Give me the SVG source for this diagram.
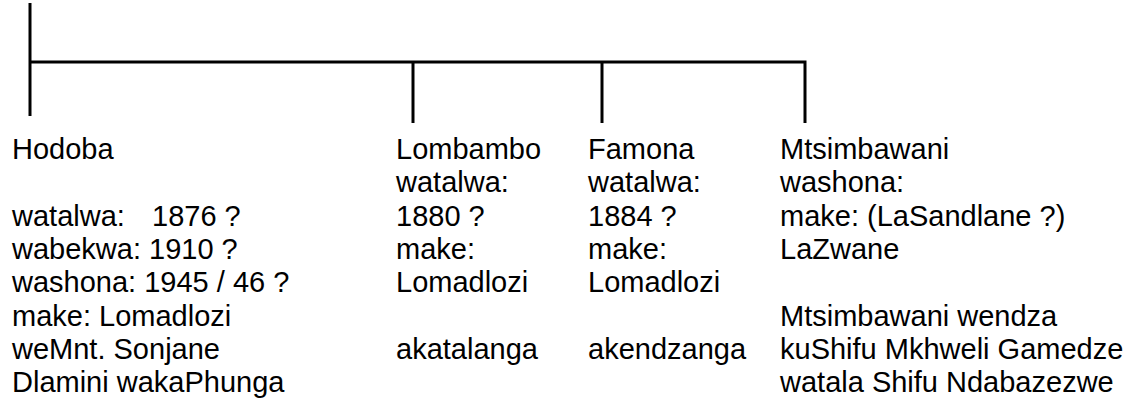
<svg xmlns="http://www.w3.org/2000/svg" width="1135" height="401" viewBox="0 0 1135 401">
<style>
.t{font-family:"Liberation Sans",Arial,sans-serif;font-size:29px;fill:#000}
.c{stroke:#000;stroke-width:3;fill:none}
</style>
<rect width="1135" height="401" fill="#fff"/>
<g id="connectors">
<line class="c" x1="30" y1="3" x2="30" y2="116"/>
<polyline class="c" points="30,62 805,62 805,123"/>
<line class="c" x1="413" y1="62" x2="413" y2="123"/>
<line class="c" x1="602" y1="62" x2="602" y2="123"/>
</g>
<g id="hodoba">
<text class="t" x="12" y="159">Hodoba</text>
<text class="t" x="12" y="226">watalwa:<tspan x="152">1876 ?</tspan></text>
<text class="t" x="12" y="259">wabekwa: 1910 ?</text>
<text class="t" x="12" y="292">washona: 1945 / 46 ?</text>
<text class="t" x="12" y="326">make: Lomadlozi</text>
<text class="t" x="12" y="359">weMnt. Sonjane</text>
<text class="t" x="12" y="392">Dlamini wakaPhunga</text>
</g>
<g id="lombambo">
<text class="t" x="396" y="159">Lombambo</text>
<text class="t" x="396" y="192">watalwa:</text>
<text class="t" x="396" y="226">1880 ?</text>
<text class="t" x="396" y="259">make:</text>
<text class="t" x="396" y="292">Lomadlozi</text>
<text class="t" x="396" y="359">akatalanga</text>
</g>
<g id="famona">
<text class="t" x="588" y="159">Famona</text>
<text class="t" x="588" y="192">watalwa:</text>
<text class="t" x="588" y="226">1884 ?</text>
<text class="t" x="588" y="259">make:</text>
<text class="t" x="588" y="292">Lomadlozi</text>
<text class="t" x="588" y="359">akendzanga</text>
</g>
<g id="mtsimbawani">
<text class="t" x="780" y="159">Mtsimbawani</text>
<text class="t" x="780" y="192">washona:</text>
<text class="t" x="780" y="226">make: (LaSandlane ?)</text>
<text class="t" x="780" y="259">LaZwane</text>
<text class="t" x="780" y="326">Mtsimbawani wendza</text>
<text class="t" x="780" y="359">kuShifu Mkhweli Gamedze</text>
<text class="t" x="780" y="392">watala Shifu Ndabazezwe</text>
</g>
</svg>
